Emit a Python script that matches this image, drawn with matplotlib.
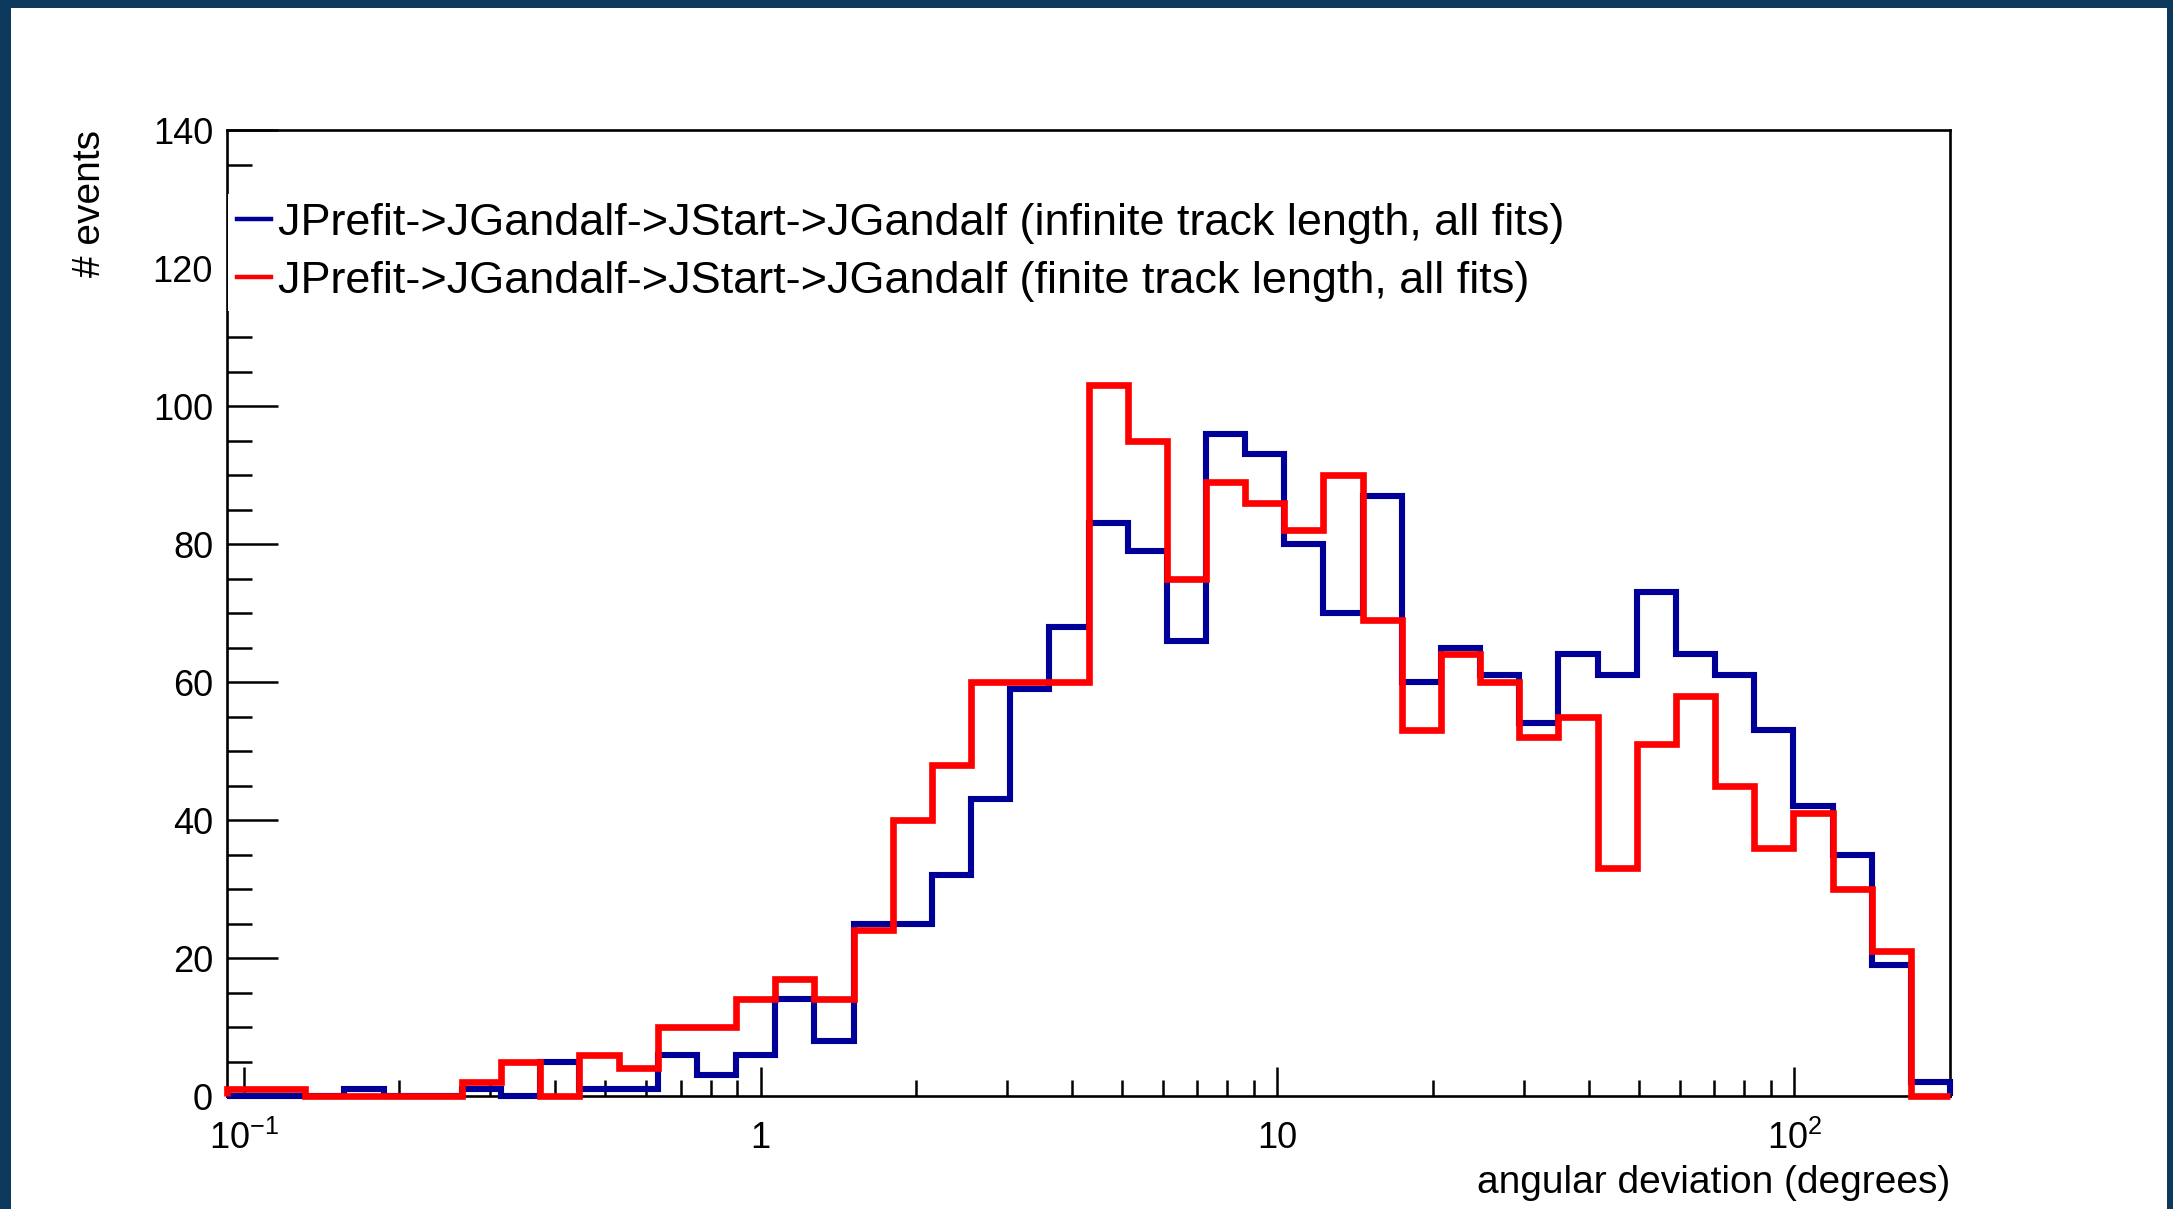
import numpy as np
import matplotlib
matplotlib.use("Agg")
import matplotlib.pyplot as plt
from matplotlib.lines import Line2D
from matplotlib.patches import Rectangle
from matplotlib.ticker import FixedLocator, FixedFormatter, NullFormatter, MultipleLocator

# ---- histogram contents (44 log-spaced bins) ----
x_max = 200.0
n_decades = 10.0 / 3.0
n_bins = 44

counts_infinite = [0, 0, 0, 1, 0, 0, 1, 0, 5, 1,
                   1, 6, 3, 6, 14, 8, 25, 25, 32, 43,
                   59, 68, 83, 79, 66, 96, 93, 80, 70, 87,
                   60, 65, 61, 54, 64, 61, 73, 64, 61, 53,
                   42, 35, 19, 2]
counts_finite = [1, 1, 0, 0, 0, 0, 2, 5, 0, 6,
                 4, 10, 10, 14, 17, 14, 24, 40, 48, 60,
                 60, 60, 103, 95, 75, 89, 86, 82, 90, 69,
                 53, 64, 60, 52, 55, 33, 51, 58, 45, 36,
                 41, 30, 21, 0]

labels = ["JPrefit->JGandalf->JStart->JGandalf (infinite track length, all fits)",
          "JPrefit->JGandalf->JStart->JGandalf (finite track length, all fits)"]
major_x = [0.1, 1, 10, 100]
major_x_labels = [r"$10^{-1}$", "1", "10", r"$10^{2}$"]
x_title = "angular deviation (degrees)"
y_title = "# events"
y_max = 140

edges = np.logspace(np.log10(x_max) - n_decades, np.log10(x_max), n_bins + 1)

plt.rcParams["font.family"] = ["Liberation Sans", "DejaVu Sans"]
plt.rcParams["mathtext.fontset"] = "custom"
plt.rcParams["mathtext.rm"] = "Liberation Sans"
plt.rcParams["mathtext.it"] = "Liberation Sans:italic"
plt.rcParams["mathtext.default"] = "regular"

fig = plt.figure(figsize=(21.73, 12.09), dpi=100, facecolor="#0d3a5c")
fig.patches.append(Rectangle((11 / 2173, 0), 2156 / 2173, 1 - 8 / 1209,
                             transform=fig.transFigure, facecolor="white",
                             edgecolor="none", zorder=-10))

ax = fig.add_axes([227 / 2173, 1 - 1096 / 1209, 1723 / 2173, 966 / 1209])
ax.set_zorder(1)
ax.set_xscale("log")

blue = "#000099"
red = "#ff0000"
ax.stairs(counts_infinite, edges, baseline=0, color=blue, lw=4.4,
          clip_on=False, zorder=3)
ax.stairs(counts_finite, edges, baseline=0, color=red, lw=4.8,
          clip_on=False, zorder=4)

ax.set_xlim(edges[0], edges[-1])
ax.set_ylim(0, y_max)

# x axis ticks
minor_x = [m * 10.0 ** e for e in range(-1, 3) for m in range(2, 10)
           if edges[0] < m * 10.0 ** e < edges[-1]]
ax.xaxis.set_major_locator(FixedLocator(major_x))
ax.xaxis.set_major_formatter(FixedFormatter(major_x_labels))
ax.xaxis.set_minor_locator(FixedLocator(minor_x))
ax.xaxis.set_minor_formatter(NullFormatter())

# y axis ticks
ax.yaxis.set_major_locator(MultipleLocator(20))
ax.yaxis.set_minor_locator(MultipleLocator(5))

ax.tick_params(axis="both", which="both", direction="in", top=False,
               right=False, width=1.8, color="black")
ax.tick_params(axis="x", which="major", length=21, pad=18, labelsize=26)
ax.tick_params(axis="x", which="minor", length=11.5)
ax.tick_params(axis="y", which="major", length=36.5, pad=10, labelsize=26)
ax.tick_params(axis="y", which="minor", length=18)

for s in ax.spines.values():
    s.set_linewidth(1.9)
    s.set_color("black")

ax.set_xlabel(x_title, fontsize=28, loc="right")
ax.xaxis.set_label_coords(1.0, -0.071)
ax.set_ylabel(y_title, fontsize=28, loc="top")
ax.yaxis.set_label_coords(-0.069, 1.0)

handles = [Line2D([], [], color=blue, lw=3.2), Line2D([], [], color=red, lw=3.2)]
leg = ax.legend(handles, labels, loc="upper left", bbox_to_anchor=(0.0005, 0.934),
                fontsize=32.4, frameon=True, fancybox=False, edgecolor="none",
                facecolor="white", framealpha=1, handlelength=0.76,
                handletextpad=0.16, borderpad=0.2, labelspacing=0.38,
                borderaxespad=0)
leg.set_zorder(5)

fig.savefig("out.png", dpi=100, facecolor=fig.get_facecolor())
